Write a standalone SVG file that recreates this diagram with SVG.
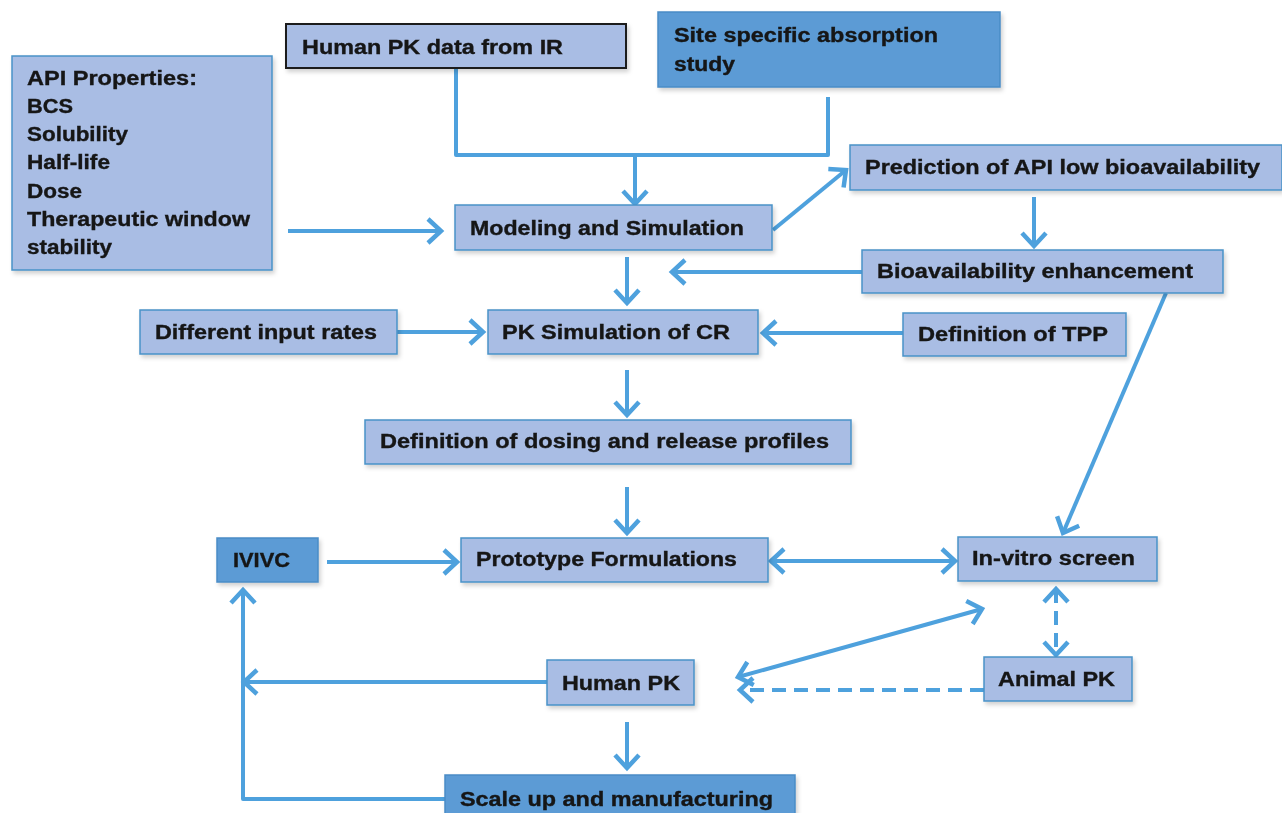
<svg xmlns="http://www.w3.org/2000/svg" width="1282" height="813" viewBox="0 0 1282 813">
<defs>
<style>
.box{fill:#a9bde4;stroke:#4a93c8;stroke-width:1.5}
.dark{fill:#5b9bd5;stroke:#4a8cc6;stroke-width:1.5}
.blk{fill:#a9bde4;stroke:#1a1a1a;stroke-width:2}
.t{font-family:"Liberation Sans",Arial,sans-serif;font-weight:bold;font-size:20px;fill:#141414;stroke:#141414;stroke-width:0.35}
.c{fill:none;stroke:#4ea1dd;stroke-width:4;stroke-linecap:butt;stroke-linejoin:round}
.a{marker-end:url(#ah)}
.b{marker-start:url(#ah);marker-end:url(#ah)}
.d{stroke-dasharray:14 8}
</style>
<marker id="ah" markerUnits="userSpaceOnUse" markerWidth="20" markerHeight="28" refX="16" refY="14" orient="auto-start-reverse">
<path d="M3,2 L16,14 L3,26" fill="none" stroke="#4ea1dd" stroke-width="4.5" stroke-linejoin="miter"/>
</marker>
<filter id="sh" x="-5%" y="-10%" width="115%" height="130%">
<feDropShadow dx="2" dy="3" stdDeviation="2" flood-color="#000" flood-opacity="0.18"/>
</filter>
</defs>
<rect width="1282" height="813" fill="#ffffff"/>

<g id="connectors">
<polyline class="c" points="456,68 456,155 828,155 828,97"/>
<line class="c a" x1="635" y1="155" x2="635" y2="204"/>
<line class="c a" x1="288" y1="231" x2="441" y2="231"/>
<line class="c a" x1="773" y1="230" x2="846" y2="170"/>
<line class="c a" x1="1034" y1="197" x2="1034" y2="246"/>
<line class="c a" x1="862" y1="272" x2="672" y2="272"/>
<line class="c a" x1="627" y1="257" x2="627" y2="303"/>
<line class="c a" x1="1166" y1="293" x2="1063" y2="533"/>
<line class="c a" x1="397" y1="332" x2="483" y2="332"/>
<line class="c a" x1="903" y1="333" x2="763" y2="333"/>
<line class="c a" x1="627" y1="370" x2="627" y2="415"/>
<line class="c a" x1="627" y1="487" x2="627" y2="533"/>
<line class="c a" x1="327" y1="562" x2="457" y2="562"/>
<line class="c b" x1="771" y1="561" x2="955" y2="561"/>
<line class="c b d" x1="1056" y1="589" x2="1056" y2="655"/>
<line class="c b" x1="738" y1="677" x2="982" y2="609"/>
<line class="c a d" x1="984" y1="690" x2="740" y2="690"/>
<line class="c a" x1="547" y1="682" x2="244" y2="682"/>
<line class="c a" x1="627" y1="722" x2="627" y2="768"/>
<polyline class="c a" points="445,799 243,799 243,590"/>
</g>

<g id="n-api" filter="url(#sh)">
<rect class="box" x="12" y="56" width="260" height="214"/>
<text class="t" x="27" y="85" textLength="170" lengthAdjust="spacingAndGlyphs">API Properties:</text>
<text class="t" x="27" y="113" textLength="46" lengthAdjust="spacingAndGlyphs">BCS</text>
<text class="t" x="27" y="141" textLength="101" lengthAdjust="spacingAndGlyphs">Solubility</text>
<text class="t" x="27" y="169" textLength="83" lengthAdjust="spacingAndGlyphs">Half-life</text>
<text class="t" x="27" y="198" textLength="55" lengthAdjust="spacingAndGlyphs">Dose</text>
<text class="t" x="27" y="226" textLength="223" lengthAdjust="spacingAndGlyphs">Therapeutic window</text>
<text class="t" x="27" y="254" textLength="85" lengthAdjust="spacingAndGlyphs">stability</text>
</g>

<g id="n-humanpkir" filter="url(#sh)">
<rect class="blk" x="286" y="24" width="340" height="44"/>
<text class="t" x="302" y="54" textLength="261" lengthAdjust="spacingAndGlyphs">Human PK data from IR</text>
</g>

<g id="n-site" filter="url(#sh)">
<rect class="dark" x="658" y="12" width="342" height="75"/>
<text class="t" x="674" y="42" textLength="264" lengthAdjust="spacingAndGlyphs">Site specific absorption</text>
<text class="t" x="674" y="71" textLength="61" lengthAdjust="spacingAndGlyphs">study</text>
</g>

<g id="n-prediction" filter="url(#sh)">
<rect class="box" x="850" y="145" width="432" height="45"/>
<text class="t" x="865" y="174" textLength="395" lengthAdjust="spacingAndGlyphs">Prediction of API low bioavailability</text>
</g>

<g id="n-modeling" filter="url(#sh)">
<rect class="box" x="455" y="205" width="317" height="45"/>
<text class="t" x="470" y="235" textLength="274" lengthAdjust="spacingAndGlyphs">Modeling and Simulation</text>
</g>

<g id="n-bioenh" filter="url(#sh)">
<rect class="box" x="862" y="250" width="361" height="43"/>
<text class="t" x="877" y="278" textLength="316" lengthAdjust="spacingAndGlyphs">Bioavailability enhancement</text>
</g>

<g id="n-inputrates" filter="url(#sh)">
<rect class="box" x="140" y="310" width="257" height="44"/>
<text class="t" x="155" y="339" textLength="222" lengthAdjust="spacingAndGlyphs">Different input rates</text>
</g>

<g id="n-pksim" filter="url(#sh)">
<rect class="box" x="488" y="310" width="270" height="44"/>
<text class="t" x="502" y="339" textLength="228" lengthAdjust="spacingAndGlyphs">PK Simulation of CR</text>
</g>

<g id="n-tpp" filter="url(#sh)">
<rect class="box" x="903" y="313" width="223" height="43"/>
<text class="t" x="918" y="341" textLength="190" lengthAdjust="spacingAndGlyphs">Definition of TPP</text>
</g>

<g id="n-dosing" filter="url(#sh)">
<rect class="box" x="365" y="420" width="486" height="44"/>
<text class="t" x="380" y="448" textLength="449" lengthAdjust="spacingAndGlyphs">Definition of dosing and release profiles</text>
</g>

<g id="n-ivivc" filter="url(#sh)">
<rect class="dark" x="217" y="538" width="101" height="44"/>
<text class="t" x="233" y="567" textLength="57" lengthAdjust="spacingAndGlyphs">IVIVC</text>
</g>

<g id="n-proto" filter="url(#sh)">
<rect class="box" x="461" y="538" width="307" height="44"/>
<text class="t" x="476" y="566" textLength="261" lengthAdjust="spacingAndGlyphs">Prototype Formulations</text>
</g>

<g id="n-invitro" filter="url(#sh)">
<rect class="box" x="958" y="537" width="199" height="44"/>
<text class="t" x="972" y="565" textLength="163" lengthAdjust="spacingAndGlyphs">In-vitro screen</text>
</g>

<g id="n-humanpk" filter="url(#sh)">
<rect class="box" x="547" y="660" width="147" height="45"/>
<text class="t" x="562" y="690" textLength="118" lengthAdjust="spacingAndGlyphs">Human PK</text>
</g>

<g id="n-animalpk" filter="url(#sh)">
<rect class="box" x="984" y="657" width="148" height="44"/>
<text class="t" x="998" y="686" textLength="117" lengthAdjust="spacingAndGlyphs">Animal PK</text>
</g>

<g id="n-scaleup" filter="url(#sh)">
<rect class="dark" x="445" y="775" width="350" height="45"/>
<text class="t" x="460" y="806" textLength="313" lengthAdjust="spacingAndGlyphs">Scale up and manufacturing</text>
</g>
</svg>
